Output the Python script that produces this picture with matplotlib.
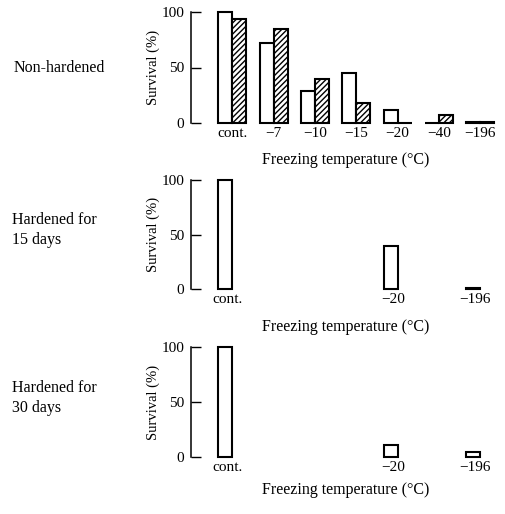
import numpy as np
import matplotlib as mpl
import matplotlib.pyplot as plt

mpl.rc('font', family=['Liberation Serif', 'DejaVu Serif'], size=11.5)
mpl.rc('hatch', linewidth=1.0)

# data
temps = ['cont.', '\u22127', '\u221210', '\u221215', '\u221220', '\u221240', '\u2212196']
nonhard_a = [100, 72, 29, 45, 12, 0, 0.8]     # open bars
nonhard_b = [94, 85, 40, 18, 0, 7, 0.8]       # hatched bars

temps_short = ['cont.', '\u221220', '\u2212196']
idx_short = [0, 4, 6]
hard15 = [100, 39, 1]
hard30 = [100, 11, 5]

row_labels = ['Non-hardened', 'Hardened for\n15 days', 'Hardened for\n30 days']

W, H = 506, 514
fig = plt.figure(figsize=(W / 100, H / 100), dpi=100)

bw = 0.34
x0, x1 = -1.0, 6.5
ax_l = 191 / W
ax_w = (501 - 191) / W


def make_ax(top_px, bot_px, xlab_px):
    ax = fig.add_axes([ax_l, 1 - bot_px / H, ax_w, (bot_px - top_px) / H])
    ax.set_xlim(x0, x1)
    ax.set_ylim(0, 100)
    for s in ['top', 'right', 'bottom']:
        ax.spines[s].set_visible(False)
    ax.spines['left'].set_linewidth(1.1)
    ax.set_yticks([0, 50, 100])
    ax.tick_params(axis='y', direction='in', length=7, width=1.0, pad=5,
                   labelsize=11)
    ax.tick_params(axis='x', length=0, pad=3, labelsize=11)
    ax.set_ylabel('Survival (%)', fontsize=10.5)
    ax.yaxis.set_label_coords(-0.1, 0.5)
    ax.set_xlabel('Freezing temperature (\u00b0C)')
    h = bot_px - top_px
    ax.xaxis.set_label_coords(0.5, -(xlab_px - bot_px) / h, )
    ax.xaxis.label.set_va('center')
    return ax


# panel 1
ax1 = make_ax(12, 123, 160)
x = np.arange(len(temps))
ax1.bar(x - bw / 2, nonhard_a, bw, facecolor='white', edgecolor='black',
        linewidth=1.5, clip_on=False)
ax1.bar(x + bw / 2, nonhard_b, bw, facecolor='white', edgecolor='black',
        hatch='//////', linewidth=1.5, clip_on=False)
ax1.set_xticks(x)
ax1.set_xticklabels(temps)

# panel 2
ax2 = make_ax(180, 289, 327)
xs = np.array(idx_short) - bw / 2
ax2.bar(xs, hard15, bw, facecolor='white', edgecolor='black',
        linewidth=1.5, clip_on=False)
ax2.set_xticks(xs + 0.05)
ax2.set_xticklabels(temps_short)

# panel 3
ax3 = make_ax(347, 457, 490)
ax3.bar(xs, hard30, bw, facecolor='white', edgecolor='black',
        linewidth=1.5, clip_on=False)
ax3.set_xticks(xs + 0.05)
ax3.set_xticklabels(temps_short)

# row labels on the left
fig.text(14 / W, 1 - 68 / H, row_labels[0], ha='left', va='center')
fig.text(12 / W, 1 - 230 / H, row_labels[1], ha='left', va='center',
         linespacing=1.25)
fig.text(12 / W, 1 - 398 / H, row_labels[2], ha='left', va='center',
         linespacing=1.25)

fig.savefig('out.png', dpi=100)
